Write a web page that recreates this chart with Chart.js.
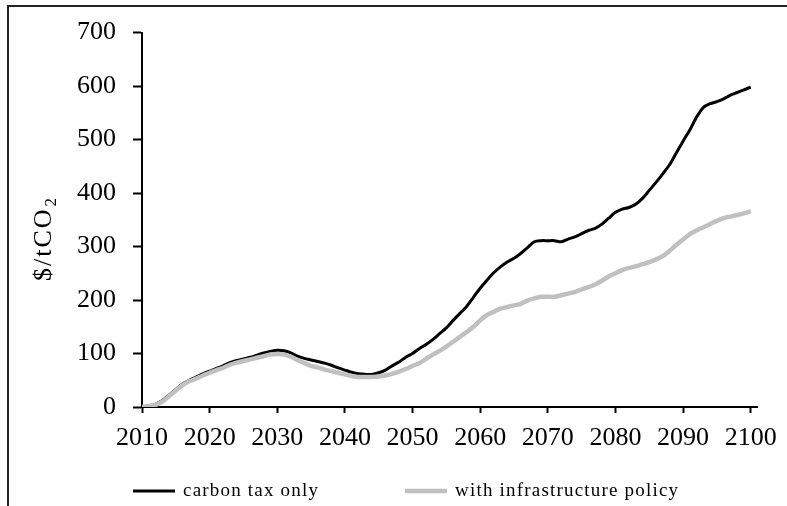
<!DOCTYPE html>
<html>
<head>
<meta charset="utf-8">
<script src="https://cdn.jsdelivr.net/npm/chart.js@4.4.1/dist/chart.umd.min.js"></script>
<style>
  html, body { margin: 0; padding: 0; background: #fff; }
  #wrap { position: relative; width: 787px; height: 506px; overflow: hidden; }
  #frame { position: absolute; left: 7px; top: 5px; width: 820px; height: 540px; border: 2px solid #222; }
  #chart { position: absolute; left: 0; top: 0; }
</style>
</head>
<body>
<div id="wrap">
  <div id="frame"></div>
  <canvas id="chart" width="787" height="506"></canvas>
</div>
<script>
const years = [
  2010, 2011, 2012, 2013, 2014, 2015, 2016, 2017, 2018, 2019,
  2020, 2021, 2022, 2023, 2024, 2025, 2026, 2027, 2028, 2029,
  2030, 2031, 2032, 2033, 2034, 2035, 2036, 2037, 2038, 2039,
  2040, 2041, 2042, 2043, 2044, 2045, 2046, 2047, 2048, 2049,
  2050, 2051, 2052, 2053, 2054, 2055, 2056, 2057, 2058, 2059,
  2060, 2061, 2062, 2063, 2064, 2065, 2066, 2067, 2068, 2069,
  2070, 2071, 2072, 2073, 2074, 2075, 2076, 2077, 2078, 2079,
  2080, 2081, 2082, 2083, 2084, 2085, 2086, 2087, 2088, 2089,
  2090, 2091, 2092, 2093, 2094, 2095, 2096, 2097, 2098, 2099,
  2100
]

// $/tCO2
const carbonTaxOnly = [
  0, 2, 5, 12, 22, 33, 43, 50, 56, 62,
  67, 72, 77, 83, 87, 90, 93, 97, 101, 104,
  106, 105, 101, 95, 91, 88, 85, 82, 78, 73,
  69, 65, 62, 61, 61, 64, 69, 77, 84, 93,
  100, 109, 117, 126, 137, 148, 162, 175, 188, 205,
  222, 237, 251, 262, 271, 278, 287, 298, 309, 311,
  311, 311, 309, 314, 318, 324, 330, 334, 342, 353,
  364, 370, 373, 379, 390, 405, 420, 436, 453, 475,
  497, 518, 542, 560, 567, 571, 576, 583, 588, 593,
  598
]

const withInfrastructure = [
  0, 2, 4, 10, 20, 31, 41, 48, 53, 59,
  64, 69, 73, 79, 83, 86, 89, 92, 95, 98,
  99, 98, 94, 88, 82, 77, 74, 70, 67, 64,
  61, 58, 56, 56, 56, 57, 59, 62, 66, 71,
  77, 82, 90, 98, 105, 113, 122, 131, 140, 150,
  162, 172, 178, 184, 187, 190, 193, 199, 203, 206,
  206, 206, 209, 212, 215, 220, 224, 229, 236, 244,
  250, 256, 260, 263, 267, 271, 276, 282, 292, 303,
  313, 323, 330, 336, 342, 348, 353, 356, 359, 362,
  366
]

const seriesNames = ['carbon tax only', 'with infrastructure policy']
const yTitle = '$/tCO'
const yTitleSub = '2'

const serif = "'Times New Roman', 'Liberation Serif', serif"

function points(values) {
  return years.map((yr, i) => ({x: yr, y: values[i]}))
}

// y title with a subscript, and the legend spread out like the original
const decor = {
  id: 'decor',
  afterDraw(chart) {
    const ctx = chart.ctx
    ctx.save()
    ctx.fillStyle = '#000'
    ctx.translate(51, 281)
    ctx.rotate(-Math.PI / 2)
    ctx.textBaseline = 'alphabetic'
    ctx.textAlign = 'left'
    ctx.font = '26px ' + serif
    ctx.letterSpacing = '2px'
    ctx.fillText(yTitle, 0, 0)
    const w = ctx.measureText(yTitle).width
    ctx.font = '17px ' + serif
    ctx.fillText(yTitleSub, w + 1, 5)
    ctx.restore()

    const starts = [133, 405]
    ctx.save()
    ctx.font = '19px ' + serif
    ctx.letterSpacing = '1.2px'
    ctx.textBaseline = 'middle'
    ctx.fillStyle = '#000'
    chart.data.datasets.forEach((ds, i) => {
      const x = starts[i], y = 491
      ctx.strokeStyle = ds.borderColor
      ctx.lineWidth = ds.borderWidth
      ctx.beginPath()
      ctx.moveTo(x, y)
      ctx.lineTo(x + 42, y)
      ctx.stroke()
      ctx.fillText(ds.label, x + 50, y)
    })
    ctx.restore()
  }
}

const ctx = document.getElementById('chart').getContext('2d')
const myChart = new Chart(ctx, {
  type: 'line',
  data: {
    datasets: [{
      label: seriesNames[0],
      data: points(carbonTaxOnly),
      borderColor: '#000000',
      borderWidth: 3,
      pointRadius: 0,
      tension: 0.3,
      order: 1
    }, {
      label: seriesNames[1],
      data: points(withInfrastructure),
      borderColor: '#c0c0c0',
      borderWidth: 4.5,
      pointRadius: 0,
      tension: 0.3,
      order: 0
    }]
  },
  options: {
    responsive: false,
    animation: false,
    layout: {
      padding: {top: 29, right: 28, bottom: 49, left: 0}
    },
    plugins: {
      legend: {display: false},
      tooltip: {enabled: false}
    },
    scales: {
      x: {
        type: 'linear',
        min: 2010,
        max: 2101,
        afterFit: s => { s.height = 50 },
        ticks: {
          stepSize: 10,
          includeBounds: false,
          maxRotation: 0,
          padding: 10,
          color: '#000',
          font: {family: serif, size: 26},
          callback: v => String(v)
        },
        grid: {drawOnChartArea: false, drawTicks: true, tickLength: 6, tickWidth: 2, tickColor: '#000'},
        border: {color: '#000', width: 2}
      },
      y: {
        min: 0,
        max: 700,
        afterFit: s => { s.width = 142 },
        ticks: {
          stepSize: 100,
          padding: 17,
          color: '#000',
          font: {family: serif, size: 26}
        },
        grid: {drawOnChartArea: false, drawTicks: true, tickLength: 9, tickWidth: 2, tickColor: '#000'},
        border: {color: '#000', width: 2}
      }
    }
  },
  plugins: [decor]
})
</script>
</body>
</html>
